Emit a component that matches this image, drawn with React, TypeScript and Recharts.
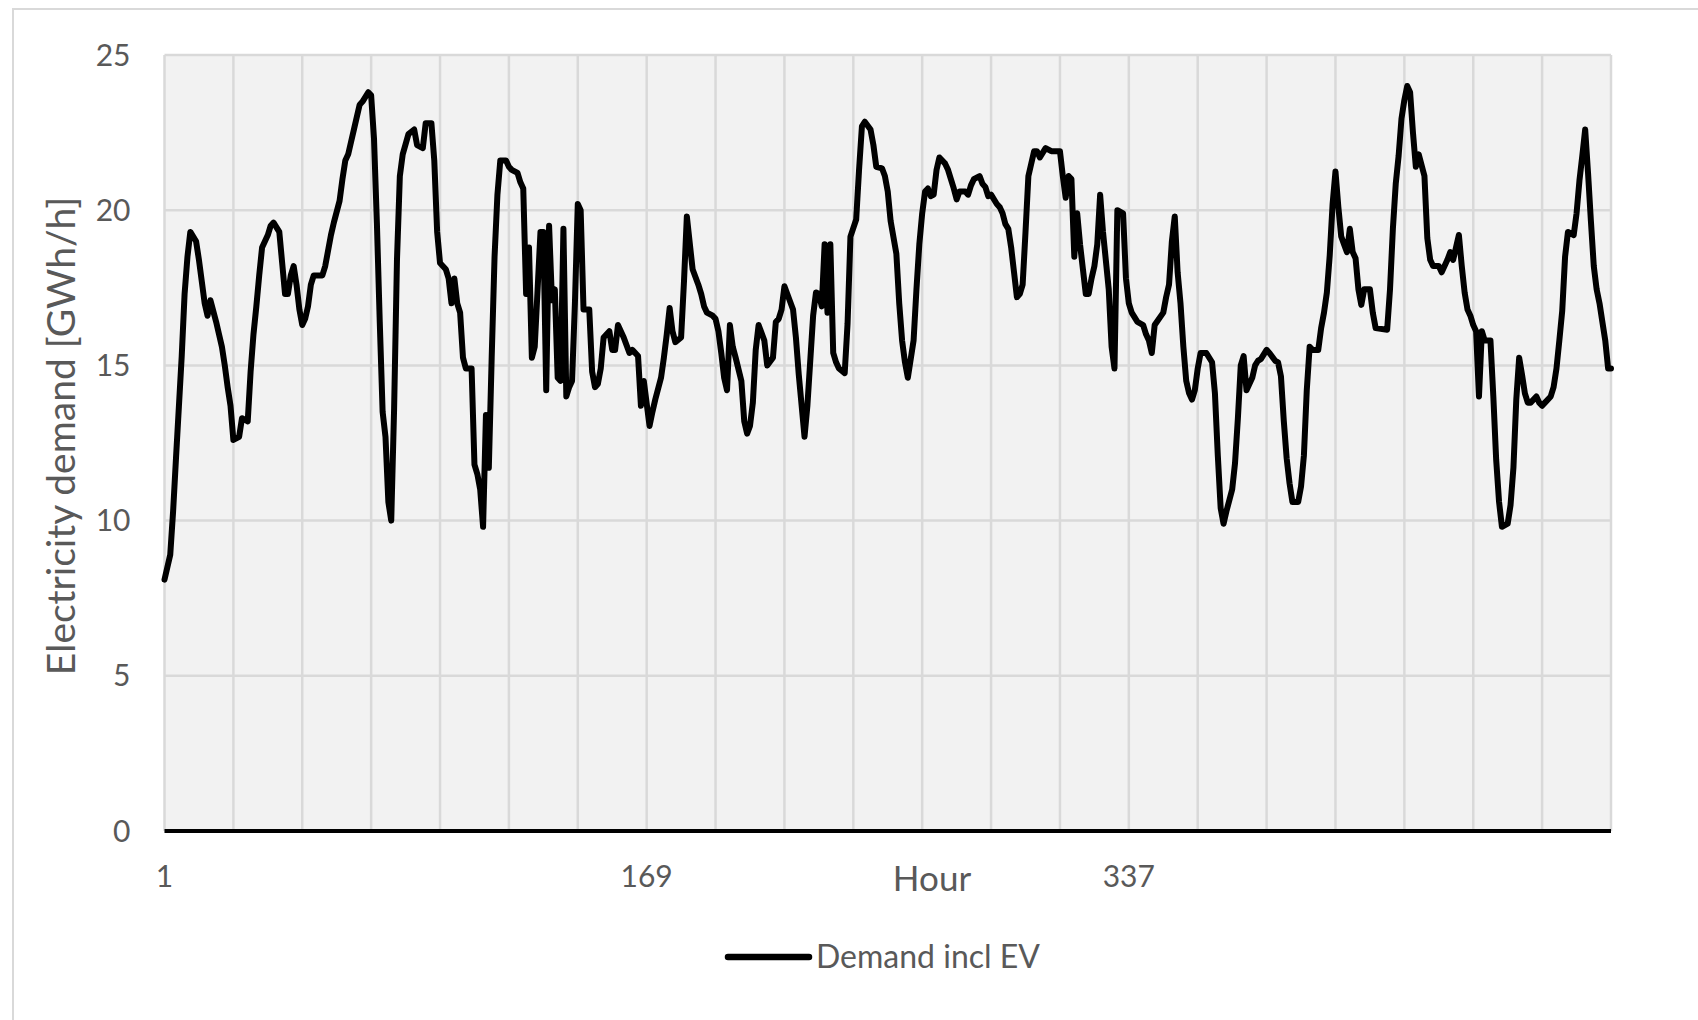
import { LineChart, Line, XAxis, YAxis, CartesianGrid, Legend } from 'recharts';

// hour of each traced vertex, and demand [GWh/h] at that hour
const HOURS = [
  1, 3, 4, 5, 7, 8, 9, 10, 12, 13,
  14, 15, 16, 17, 19, 20, 21, 22, 23, 24,
  25, 27, 28, 30, 31, 32, 33, 34, 35, 37,
  38, 39, 41, 42, 43, 44, 45, 46, 47, 48,
  49, 50, 51, 52, 53, 56, 57, 58, 59, 60,
  62, 63, 64, 65, 66, 67, 69, 70, 72, 73,
  74, 75, 76, 77, 78, 79, 80, 81, 82, 83,
  84, 86, 88, 89, 91, 92, 94, 95, 96, 97,
  99, 100, 101, 102, 103, 104, 105, 106, 108, 109,
  110, 111, 112, 113, 114, 115, 116, 117, 118, 120,
  121, 122, 124, 125, 126, 127, 128, 129, 130, 132,
  133, 134, 135, 136, 137, 138, 139, 140, 141, 142,
  143, 144, 145, 146, 147, 149, 150, 151, 152, 153,
  154, 156, 157, 158, 159, 161, 163, 164, 166, 167,
  168, 170, 171, 172, 174, 175, 176, 177, 178, 179,
  181, 182, 183, 185, 187, 188, 189, 190, 192, 193,
  194, 195, 196, 197, 198, 199, 200, 202, 203, 204,
  205, 206, 207, 208, 210, 211, 213, 214, 215, 216,
  217, 218, 220, 221, 222, 223, 224, 225, 227, 228,
  229, 230, 231, 232, 233, 234, 235, 236, 238, 239,
  240, 242, 243, 244, 245, 247, 248, 249, 251, 252,
  253, 254, 256, 257, 258, 259, 260, 262, 263, 264,
  265, 266, 267, 268, 269, 270, 271, 273, 274, 275,
  276, 277, 278, 280, 281, 282, 283, 285, 286, 287,
  288, 289, 291, 292, 293, 294, 295, 296, 297, 298,
  299, 300, 301, 302, 303, 304, 305, 306, 308, 310,
  313, 314, 315, 316, 317, 318, 319, 320, 321, 322,
  323, 324, 325, 326, 327, 328, 330, 331, 332, 333,
  335, 336, 337, 338, 340, 342, 343, 344, 345, 346,
  349, 350, 351, 352, 353, 354, 355, 356, 357, 358,
  359, 360, 361, 362, 364, 366, 367, 368, 369, 370,
  371, 373, 374, 375, 376, 377, 378, 380, 381, 382,
  383, 385, 386, 388, 389, 390, 391, 392, 393, 394,
  396, 397, 398, 399, 400, 401, 403, 404, 405, 406,
  407, 408, 409, 410, 411, 412, 413, 414, 415, 416,
  417, 418, 419, 421, 422, 423, 427, 428, 429, 430,
  431, 432, 433, 434, 435, 436, 437, 438, 440, 441,
  442, 443, 445, 446, 447, 448, 449, 450, 452, 453,
  454, 455, 456, 457, 458, 459, 460, 461, 463, 464,
  465, 466, 467, 469, 470, 471, 472, 473, 474, 475,
  476, 477, 479, 480, 481, 482, 484, 485, 486, 487,
  488, 489, 490, 492, 493, 494, 495, 496, 497, 498,
  499, 500, 501, 502, 503, 504, 505,
];

const DEMAND = [
  8.1, 8.9, 10.3, 12.0, 15.3, 17.3, 18.5, 19.3, 19.0, 18.4,
  17.7, 17.0, 16.6, 17.1, 16.4, 16.0, 15.6, 15.0, 14.3, 13.7,
  12.6, 12.7, 13.3, 13.2, 14.8, 16.0, 16.9, 17.9, 18.8, 19.2,
  19.5, 19.6, 19.3, 18.3, 17.3, 17.3, 17.9, 18.2, 17.6, 16.8,
  16.3, 16.5, 16.9, 17.6, 17.9, 17.9, 18.2, 18.7, 19.2, 19.6,
  20.3, 21.0, 21.6, 21.8, 22.2, 22.6, 23.4, 23.5, 23.8, 23.7,
  22.3, 19.6, 16.4, 13.5, 12.7, 10.6, 10.0, 13.6, 18.4, 21.1,
  21.8, 22.45, 22.6, 22.1, 22.0, 22.8, 22.8, 21.6, 19.3, 18.3,
  18.1, 17.8, 17.0, 17.8, 17.0, 16.7, 15.25, 14.9, 14.9, 11.8,
  11.5, 11.0, 9.8, 13.4, 11.7, 15.25, 18.5, 20.5, 21.6, 21.6,
  21.4, 21.3, 21.2, 20.9, 20.7, 17.3, 18.8, 15.25, 15.6, 19.3,
  19.3, 14.2, 19.5, 17.1, 17.45, 14.6, 14.5, 19.4, 14.0, 14.3,
  14.5, 17.0, 20.2, 20.0, 16.8, 16.8, 14.8, 14.3, 14.4, 14.9,
  15.9, 16.1, 15.5, 15.5, 16.3, 15.9, 15.4, 15.5, 15.3, 13.7,
  14.5, 13.05, 13.5, 13.9, 14.6, 15.25, 16.0, 16.85, 16.1, 15.75,
  15.9, 17.7, 19.8, 18.1, 17.6, 17.3, 16.9, 16.7, 16.6, 16.5,
  16.1, 15.4, 14.6, 14.2, 16.3, 15.6, 15.25, 14.5, 13.2, 12.8,
  13.05, 13.8, 15.5, 16.3, 15.8, 15.0, 15.25, 16.4, 16.5, 16.8,
  17.55, 17.3, 16.8, 15.9, 14.7, 13.7, 12.7, 13.7, 16.6, 17.35,
  17.3, 16.9, 18.9, 16.7, 18.9, 15.4, 15.1, 14.9, 14.75, 16.35,
  19.15, 19.7, 21.3, 22.7, 22.85, 22.6, 22.1, 21.4, 21.35, 21.1,
  20.6, 19.65, 18.6, 17.0, 15.8, 15.1, 14.6, 15.8, 17.45, 18.9,
  19.9, 20.6, 20.7, 20.45, 20.5, 21.3, 21.7, 21.5, 21.3, 21.0,
  20.7, 20.35, 20.6, 20.6, 20.5, 20.8, 21.0, 21.1, 20.85, 20.75,
  20.45, 20.5, 20.2, 20.1, 19.9, 19.55, 19.4, 18.8, 18.0, 17.2,
  17.3, 17.6, 19.3, 21.1, 21.5, 21.9, 21.9, 21.7, 22.0, 21.9,
  21.9, 21.1, 20.4, 21.1, 21.0, 18.5, 19.9, 18.9, 18.1, 17.3,
  17.3, 17.8, 18.2, 18.9, 20.5, 19.3, 17.45, 15.6, 14.9, 20.0,
  19.9, 17.8, 17.0, 16.7, 16.4, 16.3, 16.0, 15.8, 15.4, 16.3,
  16.7, 17.2, 17.6, 19.0, 19.8, 18.0, 17.0, 15.6, 14.5, 14.1,
  13.9, 14.2, 14.9, 15.4, 15.4, 15.1, 14.1, 12.1, 10.4, 9.9,
  10.3, 11.0, 11.85, 13.3, 15.0, 15.3, 14.2, 14.6, 15.0, 15.15,
  15.2, 15.5, 15.4, 15.15, 15.1, 14.65, 13.2, 12.0, 11.2, 10.6,
  10.6, 11.1, 12.1, 14.2, 15.6, 15.5, 15.5, 16.2, 16.7, 17.35,
  18.55, 20.2, 21.25, 20.1, 19.15, 18.9, 18.65, 19.4, 18.65, 18.45,
  17.45, 16.95, 17.45, 17.45, 16.7, 16.2, 16.15, 17.45, 19.4, 20.85,
  21.75, 22.95, 23.55, 24.0, 23.8, 22.5, 21.4, 21.8, 21.1, 19.1,
  18.4, 18.2, 18.2, 18.0, 18.2, 18.4, 18.65, 18.4, 19.2, 18.2,
  17.35, 16.8, 16.6, 16.3, 16.1, 14.0, 16.1, 15.8, 15.8, 14.0,
  11.95, 10.6, 9.8, 9.9, 10.5, 11.7, 13.9, 15.25, 14.7, 14.1,
  13.8, 13.8, 14.0, 13.8, 13.7, 13.8, 14.0, 14.3, 14.9, 15.8,
  16.75, 18.5, 19.3, 19.2, 19.9, 20.95, 21.75, 22.6, 21.2, 19.65,
  18.2, 17.45, 17.0, 16.4, 15.8, 14.9, 14.9,
];

const X_TICKS = [1, 169, 337];
const Y_TICKS = [0, 5, 10, 15, 20, 25];
const DAY_LINES = [1, 25, 49, 73, 97, 121, 145, 169, 193, 217, 241, 265, 289, 313, 337, 361, 385, 409, 433, 457, 481, 505];

const SERIES_NAME = 'Demand incl EV';
const FONT = 'Lato, "Open Sans", sans-serif';
const TEXT = '#595959';
const W = 1698;
const H = 1020;

const rows = HOURS.slice(0, Math.min(HOURS.length, DEMAND.length)).map((hour, i) => ({
  hour,
  demand: DEMAND[i],
}));

function LegendBox() {
  return (
    <svg width={W} height={60}>
      <line x1={728} y1={27} x2={809} y2={27} stroke="#000" strokeWidth={6.5} strokeLinecap="round" />
      <text x={816} y={38} fontFamily={FONT} fontSize={32} fill={TEXT}>
        {SERIES_NAME}
      </text>
    </svg>
  );
}

export default function App() {
  return (
    <div style={{ position: 'fixed', left: 0, top: 0, width: W, height: H, overflow: 'hidden', background: '#fff' }}>
      <div
        style={{
          position: 'absolute',
          left: 12,
          top: 8,
          width: 1800,
          height: 1200,
          border: '2px solid #d9d9d9',
          boxSizing: 'border-box',
        }}
      />
      <div style={{ position: 'absolute', left: 0, top: 0 }}>
        <LineChart width={W} height={H} data={rows} margin={{ top: 55, right: 87, bottom: 129, left: 64.5 }}>
          <CartesianGrid
            fill="#f2f2f2"
            stroke="#d9d9d9"
            strokeWidth={2.5}
            verticalCoordinatesGenerator={({ xAxis, offset }: any) =>
              DAY_LINES.map((h) =>
                xAxis && typeof xAxis.scale === 'function'
                  ? xAxis.scale(h)
                  : offset.left + ((h - 1) / 504) * offset.width,
              )
            }
          />
          <XAxis
            dataKey="hour"
            type="number"
            domain={[1, 505]}
            ticks={X_TICKS}
            interval={0}
            height={60}
            tickLine={false}
            tickSize={0}
            tickMargin={35}
            axisLine={{ stroke: '#000', strokeWidth: 4 }}
            tick={{ fill: TEXT, fontSize: 30, fontFamily: FONT }}
            label={{
              content: () => (
                <text x={932} y={891} textAnchor="middle" fontFamily={FONT} fontSize={35} fill={TEXT}>
                  Hour
                </text>
              ),
            }}
          />
          <YAxis
            type="number"
            domain={[0, 25]}
            ticks={Y_TICKS}
            interval={0}
            width={100}
            tickLine={false}
            axisLine={false}
            tickSize={0}
            tickMargin={34}
            tick={{ fill: TEXT, fontSize: 30, fontFamily: FONT }}
            label={{
              content: () => (
                <text
                  x={75}
                  y={436}
                  transform="rotate(-90 75 436)"
                  textAnchor="middle"
                  fontFamily={FONT}
                  fontSize={39}
                  fill={TEXT}
                >
                  Electricity demand [GWh/h]
                </text>
              ),
            }}
          />
          <Legend
            verticalAlign="middle"
            align="center"
            layout="horizontal"
            wrapperStyle={{ top: 930, left: 0, width: W, height: 60 }}
            content={() => <LegendBox />}
          />
          <Line
            type="linear"
            dataKey="demand"
            name={SERIES_NAME}
            stroke="#000"
            strokeWidth={6}
            strokeLinejoin="round"
            strokeLinecap="round"
            dot={false}
            activeDot={false}
            isAnimationActive={false}
          />
        </LineChart>
      </div>
    </div>
  );
}
